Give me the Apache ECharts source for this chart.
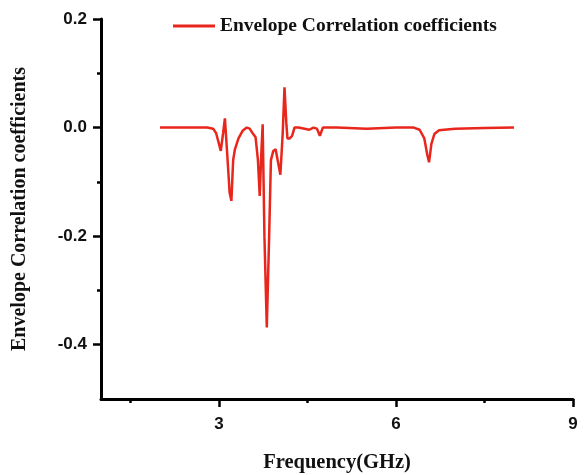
<!DOCTYPE html>
<html><head><meta charset="utf-8">
<script src="https://cdn.jsdelivr.net/npm/echarts@6/dist/echarts.min.js"></script>
<style>html,body{margin:0;padding:0;background:#fff}#c{width:586px;height:475px}</style>
</head><body><div id="c"></div>
<script>
const freq = [2.0, 2.5, 2.8, 2.9, 2.95, 3.0, 3.03, 3.07, 3.10, 3.14, 3.18, 3.21, 3.24, 3.27, 3.33, 3.40, 3.47, 3.52, 3.58, 3.62, 3.66, 3.69, 3.72, 3.74, 3.77, 3.81, 3.85, 3.88, 3.92, 3.96, 3.99, 4.04, 4.08, 4.11, 4.14, 4.16, 4.20, 4.24, 4.28, 4.35, 4.45, 4.53, 4.60, 4.66, 4.71, 4.76, 5.0, 5.5, 6.0, 6.3, 6.4, 6.48, 6.53, 6.56, 6.60, 6.65, 6.73, 7.0, 7.5, 8.0];
const ecc = [0.0, 0.0, 0.0, -0.002, -0.01, -0.03, -0.043, -0.01, 0.017, -0.05, -0.12, -0.135, -0.06, -0.04, -0.02, -0.006, 0.0, -0.002, -0.012, -0.018, -0.06, -0.126, -0.04, 0.006, -0.2, -0.368, -0.2, -0.06, -0.043, -0.04, -0.042, -0.087, -0.01, 0.074, 0.01, -0.02, -0.02, -0.015, 0.0, 0.0, -0.002, -0.004, 0.0, -0.002, -0.015, 0.0, 0.0, -0.002, 0.0, 0.0, -0.004, -0.02, -0.05, -0.064, -0.03, -0.012, -0.005, -0.002, -0.001, 0.0];
const xMajor = [3, 6, 9];
const xMinor = [1.5, 4.5, 7.5];
const yMajor = [-0.4, -0.2, 0.0, 0.2];
const yMinor = [-0.3, -0.1, 0.1];
const seriesName = 'Envelope Correlation coefficients';

const chart = echarts.init(document.getElementById('c'), null, {renderer: 'canvas'});
const axisLineStyle = {color: '#000', width: 3};
const lblFont = {color: '#111', fontFamily: 'Liberation Sans', fontWeight: 'bold', fontSize: 17};
chart.setOption({
  backgroundColor: '#fff',
  animation: false,
  grid: {left: 101, right: 13, top: 19, bottom: 76, containLabel: false, outerBoundsMode: 'none'},
  legend: {
    left: 168, top: 11, itemWidth: 42, itemHeight: 3, itemGap: 6,
    textStyle: {fontFamily: 'Liberation Serif', fontWeight: 'bold', fontSize: 19.5, color: '#111'},
    data: [{name: seriesName, icon: 'rect'}]
  },
  xAxis: [{
    type: 'value', min: 1, max: 9, position: 'bottom',
    name: 'Frequency(GHz)', nameLocation: 'middle', nameGap: 53,
    nameTextStyle: {fontFamily: 'Liberation Serif', fontWeight: 'bold', fontSize: 20.5, color: '#111'},
    axisLine: {show: true, onZero: false, lineStyle: axisLineStyle},
    axisTick: {show: true, customValues: xMajor, length: 8, lineStyle: {color: '#000', width: 2.5}},
    axisLabel: {customValues: xMajor, margin: 17, ...lblFont},
    splitLine: {show: false}
  }, {
    type: 'value', min: 1, max: 9, position: 'bottom',
    axisLine: {show: false, onZero: false},
    axisTick: {show: true, customValues: xMinor, length: 4, lineStyle: {color: '#000', width: 2.5}},
    axisLabel: {show: false},
    splitLine: {show: false}
  }],
  yAxis: [{
    type: 'value', min: -0.5, max: 0.2, position: 'left',
    name: 'Envelope Correlation coefficients', nameLocation: 'middle', nameGap: 71, nameRotate: 90,
    nameTextStyle: {fontFamily: 'Liberation Serif', fontWeight: 'bold', fontSize: 20, color: '#111'},
    axisLine: {show: true, onZero: false, lineStyle: axisLineStyle},
    axisTick: {show: true, customValues: yMajor, length: 8, lineStyle: {color: '#000', width: 2.5}},
    axisLabel: {customValues: yMajor, margin: 14, formatter: v => v.toFixed(1), ...lblFont},
    splitLine: {show: false}
  }, {
    type: 'value', min: -0.5, max: 0.2, position: 'left',
    axisLine: {show: false, onZero: false},
    axisTick: {show: true, customValues: yMinor, length: 4, lineStyle: {color: '#000', width: 2.5}},
    axisLabel: {show: false},
    splitLine: {show: false}
  }],
  series: [{
    name: seriesName, type: 'line', xAxisIndex: 0, yAxisIndex: 0,
    data: freq.map((f, i) => [f, ecc[i]]),
    symbol: 'none', smooth: false,
    lineStyle: {color: '#e8261c', width: 2.5},
    itemStyle: {color: '#e8261c'}
  }]
});
</script>
</body></html>
